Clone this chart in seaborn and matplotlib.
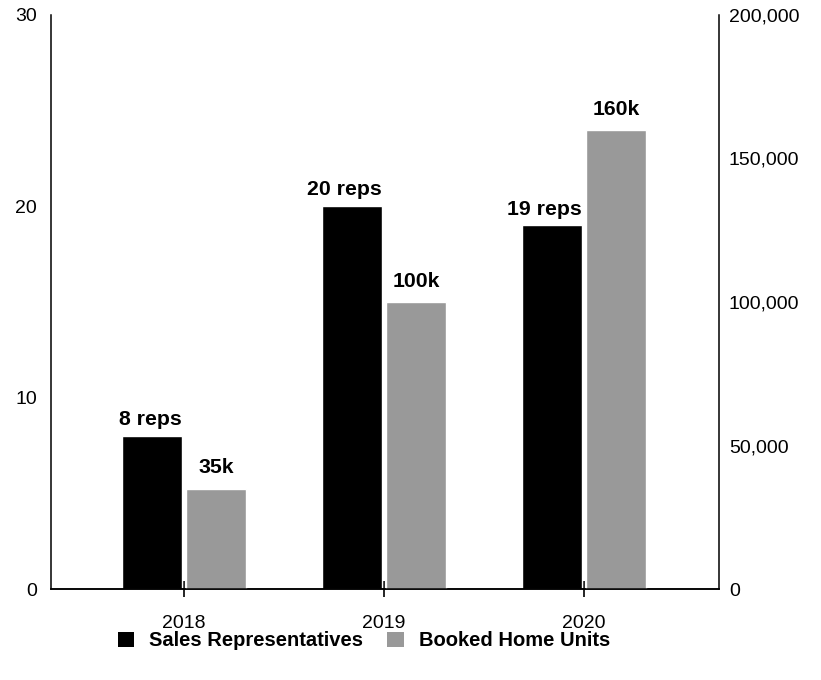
import matplotlib
matplotlib.use("Agg")
import matplotlib.pyplot as plt
import numpy as np
import pandas as pd
import seaborn as sns
from matplotlib.patches import Patch
from matplotlib.ticker import FuncFormatter

# --------------------------------------------------------------
# Data
# --------------------------------------------------------------
years = ["2018", "2019", "2020"]
reps = [8, 20, 19]
units = [35000, 100000, 160000]
rep_labels = ["8 reps", "20 reps", "19 reps"]
unit_labels = ["35k", "100k", "160k"]

series = ["Sales Representatives", "Booked Home Units"]
colors = {"Sales Representatives": "#000000", "Booked Home Units": "#999999"}

# long table: each series only has a value on its own axis, NaN on the other
df = pd.DataFrame({
    "year": years * 2,
    "series": [series[0]] * 3 + [series[1]] * 3,
    "reps": reps + [np.nan] * 3,
    "units": [np.nan] * 3 + units,
})

# --------------------------------------------------------------
# Plot
# --------------------------------------------------------------
sns.set_style("white")
plt.rcParams["font.family"] = ["Liberation Sans", "DejaVu Sans"]
plt.rcParams["text.color"] = "black"
plt.rcParams["xtick.color"] = "black"
plt.rcParams["ytick.color"] = "black"

fig = plt.figure(figsize=(8.21, 6.8), dpi=100)
ax = fig.add_axes([0.0621, 0.1338, 0.8137, 0.8442])
ax2 = ax.twinx()

sns.barplot(
    data=df, x="year", y="reps", hue="series", hue_order=series,
    palette=colors, width=0.64, gap=0.0625, ax=ax, legend=False, saturation=1,
    errorbar=None,
)
sns.barplot(
    data=df, x="year", y="units", hue="series", hue_order=series,
    palette=colors, width=0.64, gap=0.0625, ax=ax2, legend=False, saturation=1,
    errorbar=None,
)

ax.set_ylim(0, 30)
ax2.set_ylim(0, 200000)
ax.set_yticks([0, 10, 20, 30])
ax2.set_yticks([0, 50000, 100000, 150000, 200000])
ax2.yaxis.set_major_formatter(FuncFormatter(lambda v, p: f"{int(v):,}"))
ax.set_xlim(-0.665, 2.675)

# value labels above the bars
# reps labels sit flush with the right edge of their bar, units labels are centred
for a, labels, side in [(ax, rep_labels, "right"), (ax2, unit_labels, "center")]:
    bars = [p for p in a.patches if np.isfinite(p.get_height()) and p.get_height() > 0]
    bars = sorted(bars, key=lambda p: p.get_x())
    for bar, text in zip(bars, labels):
        if side == "right":
            x, dy = bar.get_x() + bar.get_width(), 5
        else:
            x, dy = bar.get_x() + bar.get_width() / 2, 8
        a.annotate(
            text, (x, bar.get_height()),
            xytext=(0, dy), textcoords="offset points", ha=side, va="bottom",
            fontsize=15.3, fontweight="bold", color="black",
        )

for a in (ax, ax2):
    a.set_xlabel("")
    a.set_ylabel("")
    a.spines["top"].set_visible(False)
    for s in a.spines.values():
        s.set_color("black")
        s.set_linewidth(1.1)

ax.spines["right"].set_visible(False)
ax2.spines["left"].set_visible(False)

# small tick through the axis at each year
ax.tick_params(axis="x", bottom=True, direction="inout", length=12, width=1.2,
               color="black", labelsize=14, pad=13)
ax.tick_params(axis="y", length=0, labelsize=14, pad=10)
ax2.tick_params(axis="y", length=0, labelsize=14, pad=7)

handles = [Patch(facecolor=colors[s], edgecolor="none", label=s) for s in series]
fig.legend(
    handles=handles, loc="center", bbox_to_anchor=(364 / 821, 1 - 641 / 680),
    ncol=2, frameon=False, prop={"weight": "bold", "size": 14.5},
    handlelength=0.8, handleheight=0.8, handletextpad=0.75, columnspacing=1.2,
)

plt.savefig("out.png", dpi=100)
